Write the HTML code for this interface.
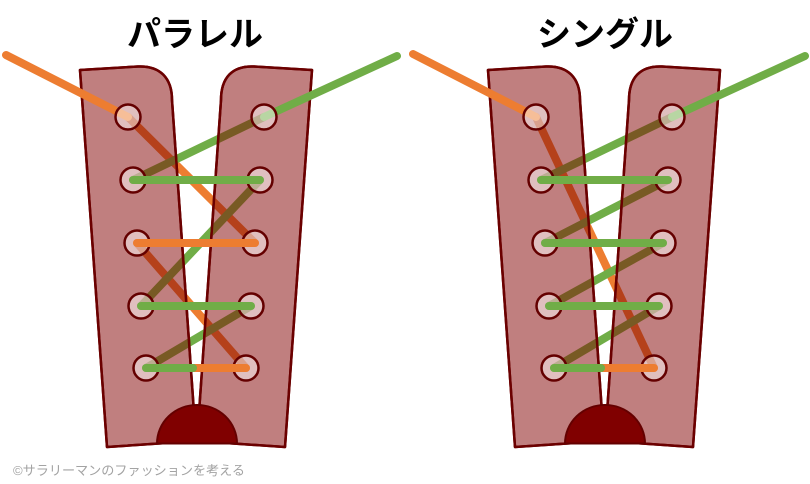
<!DOCTYPE html>
<html>
<head>
<meta charset="utf-8">
<style>
  html, body { margin: 0; padding: 0; background: #ffffff; }
  body { width: 810px; height: 484px; overflow: hidden; }
  svg { display: block; }
  .title { font-family: "Liberation Sans", "Noto Sans CJK JP", sans-serif; font-weight: bold; font-size: 34px; fill: #000; }
  .copy { font-family: "Liberation Sans", "Noto Sans CJK JP", sans-serif; font-size: 13px; fill: #a3a3a3; }
</style>
</head>
<body>
<svg width="810" height="484" viewBox="0 0 810 484" xmlns="http://www.w3.org/2000/svg">
  <defs>
    <clipPath id="flapclip" clipPathUnits="userSpaceOnUse">
      <path d="M80,70 L138,66.5 C160,65.5 172,78 172,100 L196,441 L107,447 Z"/>
      <path d="M312,70 L254,66.5 C232,65.5 221,78 221,100 L197,441 L285,447 Z"/>
    </clipPath>
  </defs>

  <text class="title" x="195" y="46" text-anchor="middle">パラレル</text>
  <text class="title" x="605" y="46" text-anchor="middle">シングル</text>

  <!-- ============ LEFT SHOE (Parallel) ============ -->
  <g>
    <g stroke-width="8" stroke-linecap="round" fill="none">
      <line x1="128" y1="117" x2="255" y2="243" stroke="#ed7d31"/>
      <line x1="137" y1="243" x2="246" y2="368" stroke="#ed7d31"/>
      <line x1="264" y1="117" x2="133" y2="180" stroke="#70ad47"/>
      <line x1="260" y1="180" x2="141" y2="306" stroke="#70ad47"/>
      <line x1="251" y1="306" x2="146" y2="368" stroke="#70ad47"/>
    </g>
    <g fill="#c07f7f" stroke="#6b0000" stroke-width="2.5" stroke-linejoin="round">
      <path d="M80,70 L138,66.5 C160,65.5 172,78 172,100 L196,441 L107,447 Z"/>
      <path d="M312,70 L254,66.5 C232,65.5 221,78 221,100 L197,441 L285,447 Z"/>
    </g>
    <g stroke-width="8" stroke-linecap="round" fill="none" clip-path="url(#flapclip)">
      <line x1="128" y1="117" x2="255" y2="243" stroke="#b5411b"/>
      <line x1="137" y1="243" x2="246" y2="368" stroke="#b5411b"/>
      <line x1="264" y1="117" x2="133" y2="180" stroke="#785a24"/>
      <line x1="260" y1="180" x2="141" y2="306" stroke="#785a24"/>
      <line x1="251" y1="306" x2="146" y2="368" stroke="#785a24"/>
    </g>
    <g fill="none" stroke="#6b0000" stroke-width="2.5" stroke-linejoin="round">
      <path d="M80,70 L138,66.5 C160,65.5 172,78 172,100 L196,441 L107,447 Z"/>
      <path d="M312,70 L254,66.5 C232,65.5 221,78 221,100 L197,441 L285,447 Z"/>
    </g>
    <path d="M157,443.5 A40,38.5 0 0 1 237,443.5 Z" fill="#800000" stroke="#640000" stroke-width="2"/>
    <g stroke-width="8" stroke-linecap="round" fill="none">
      <line x1="6" y1="55" x2="128" y2="117" stroke="#ed7d31"/>
      <line x1="397" y1="56" x2="264" y2="117" stroke="#70ad47"/>
    </g>
    <g fill="#ffffff" fill-opacity="0.5" stroke="#640000" stroke-width="2.5">
      <circle cx="128" cy="117" r="12.5"/><circle cx="264" cy="117" r="12.5"/>
      <circle cx="133" cy="180" r="12.5"/><circle cx="260" cy="180" r="12.5"/>
      <circle cx="137" cy="243" r="12.5"/><circle cx="255" cy="243" r="12.5"/>
      <circle cx="141" cy="306" r="12.5"/><circle cx="251" cy="306" r="12.5"/>
      <circle cx="146" cy="368" r="12.5"/><circle cx="246" cy="368" r="12.5"/>
    </g>
    <g stroke-width="8" stroke-linecap="round" fill="none">
      <line x1="133" y1="180" x2="260" y2="180" stroke="#70ad47"/>
      <line x1="137" y1="243" x2="255" y2="243" stroke="#ed7d31"/>
      <line x1="141" y1="306" x2="251" y2="306" stroke="#70ad47"/>
      <line x1="193" y1="368" x2="246" y2="368" stroke="#ed7d31"/>
      <line x1="146" y1="368" x2="193" y2="368" stroke="#70ad47"/>
    </g>
  </g>

  <!-- ============ RIGHT SHOE (Single) ============ -->
  <g transform="translate(408,0)">
    <g stroke-width="8" stroke-linecap="round" fill="none">
      <line x1="128" y1="117" x2="246" y2="368" stroke="#ed7d31"/>
      <line x1="264" y1="117" x2="133" y2="180" stroke="#70ad47"/>
      <line x1="260" y1="180" x2="137" y2="243" stroke="#70ad47"/>
      <line x1="255" y1="243" x2="141" y2="306" stroke="#70ad47"/>
      <line x1="251" y1="306" x2="146" y2="368" stroke="#70ad47"/>
    </g>
    <g fill="#c07f7f" stroke="#6b0000" stroke-width="2.5" stroke-linejoin="round">
      <path d="M80,70 L138,66.5 C160,65.5 172,78 172,100 L196,441 L107,447 Z"/>
      <path d="M312,70 L254,66.5 C232,65.5 221,78 221,100 L197,441 L285,447 Z"/>
    </g>
    <g stroke-width="8" stroke-linecap="round" fill="none" clip-path="url(#flapclip)">
      <line x1="128" y1="117" x2="246" y2="368" stroke="#b5411b"/>
      <line x1="264" y1="117" x2="133" y2="180" stroke="#785a24"/>
      <line x1="260" y1="180" x2="137" y2="243" stroke="#785a24"/>
      <line x1="255" y1="243" x2="141" y2="306" stroke="#785a24"/>
      <line x1="251" y1="306" x2="146" y2="368" stroke="#785a24"/>
    </g>
    <g fill="none" stroke="#6b0000" stroke-width="2.5" stroke-linejoin="round">
      <path d="M80,70 L138,66.5 C160,65.5 172,78 172,100 L196,441 L107,447 Z"/>
      <path d="M312,70 L254,66.5 C232,65.5 221,78 221,100 L197,441 L285,447 Z"/>
    </g>
    <path d="M157,443.5 A40,38.5 0 0 1 237,443.5 Z" fill="#800000" stroke="#640000" stroke-width="2"/>
    <g stroke-width="8" stroke-linecap="round" fill="none">
      <line x1="5" y1="54" x2="128" y2="117" stroke="#ed7d31"/>
      <line x1="397" y1="56" x2="264" y2="117" stroke="#70ad47"/>
    </g>
    <g fill="#ffffff" fill-opacity="0.5" stroke="#640000" stroke-width="2.5">
      <circle cx="128" cy="117" r="12.5"/><circle cx="264" cy="117" r="12.5"/>
      <circle cx="133" cy="180" r="12.5"/><circle cx="260" cy="180" r="12.5"/>
      <circle cx="137" cy="243" r="12.5"/><circle cx="255" cy="243" r="12.5"/>
      <circle cx="141" cy="306" r="12.5"/><circle cx="251" cy="306" r="12.5"/>
      <circle cx="146" cy="368" r="12.5"/><circle cx="246" cy="368" r="12.5"/>
    </g>
    <g stroke-width="8" stroke-linecap="round" fill="none">
      <line x1="133" y1="180" x2="260" y2="180" stroke="#70ad47"/>
      <line x1="137" y1="243" x2="255" y2="243" stroke="#70ad47"/>
      <line x1="141" y1="306" x2="251" y2="306" stroke="#70ad47"/>
      <line x1="193" y1="368" x2="246" y2="368" stroke="#ed7d31"/>
      <line x1="146" y1="368" x2="193" y2="368" stroke="#70ad47"/>
    </g>
  </g>

  <text class="copy" x="13" y="475" textLength="232" lengthAdjust="spacingAndGlyphs">©サラリーマンのファッションを考える</text>
</svg>
</body>
</html>
